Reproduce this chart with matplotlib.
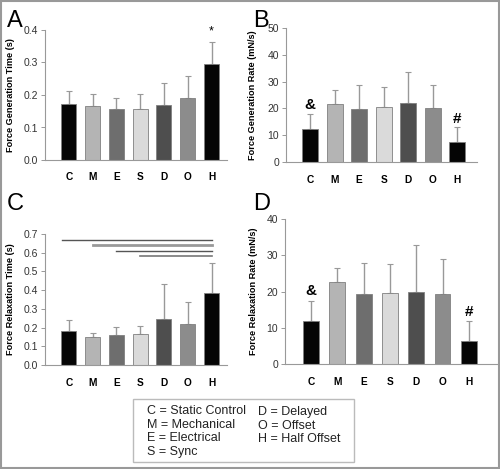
import matplotlib
matplotlib.use("Agg")
import matplotlib.pyplot as plt
from matplotlib.patches import Rectangle

categories = ["C", "M", "E", "S", "D", "O", "H"]
bar_colors = ["#050505", "#b4b4b4", "#6e6e6e", "#dadada", "#4e4e4e", "#8c8c8c", "#050505"]

gen_time = [0.172, 0.166, 0.157, 0.157, 0.170, 0.190, 0.296]
gen_time_err = [0.040, 0.037, 0.033, 0.046, 0.066, 0.068, 0.066]

gen_rate = [12.5, 21.5, 19.8, 20.5, 22.2, 20.0, 7.5]
gen_rate_err = [5.3, 5.2, 8.9, 7.3, 11.3, 8.7, 5.5]

rel_time = [0.183, 0.152, 0.158, 0.167, 0.245, 0.218, 0.385]
rel_time_err = [0.055, 0.018, 0.047, 0.040, 0.187, 0.117, 0.162]

rel_rate = [12.0, 22.5, 19.4, 19.5, 20.0, 19.2, 6.3]
rel_rate_err = [5.3, 3.9, 8.4, 8.1, 12.8, 9.8, 5.7]

sig_lines_start = [-0.3, 1, 2, 3]
sig_lines_y = [0.67, 0.64, 0.61, 0.58]
sig_lines_color = ["#555555", "#999999", "#555555", "#777777"]
sig_lines_width = [1.0, 2.0, 1.0, 1.2]

legend_left = ["C = Static Control", "M = Mechanical", "E = Electrical", "S = Sync"]
legend_right = ["D = Delayed", "O = Offset", "H = Half Offset"]

W, H = 500, 469
fig = plt.figure(figsize=(5, 4.69), dpi=100)
plt.rcParams['font.family'] = ['Liberation Sans', 'DejaVu Sans']

def fx(px):
    return px / W

def fy(py):
    return 1 - py / H

def make_ax(left, right, top, bottom):
    return fig.add_axes([fx(left), fy(bottom), fx(right) - fx(left), (bottom - top) / H])

def style(ax, vals, errs, ylim, yticks, ylabel, xlim, width, fmt, ylabel_x):
    x = list(range(len(categories)))
    ax.bar(x, vals, width=width, color=bar_colors, edgecolor="#808080", linewidth=0.6, zorder=2)
    ax.errorbar(x, vals, yerr=[[0] * len(errs), errs], fmt="none", ecolor="#999999",
                elinewidth=1.0, capsize=2.5, capthick=0.8, zorder=1)
    ax.set_xlim(*xlim)
    ax.set_ylim(*ylim)
    ax.set_yticks(yticks)
    ax.set_yticklabels([fmt.format(t) for t in yticks], fontsize=7.5, color="#333333")
    ax.set_xticks(x)
    ax.set_xticklabels(categories, fontsize=7.3, fontweight="bold")
    ax.tick_params(axis="x", length=0, pad=9)
    ax.tick_params(axis="y", length=3, width=0.6, color="#888888", pad=2)
    for s in ["top", "right"]:
        ax.spines[s].set_visible(False)
    for s in ["left", "bottom"]:
        ax.spines[s].set_color("#999999")
        ax.spines[s].set_linewidth(0.8)
    ax.set_ylabel(ylabel, fontsize=6.6, fontweight="bold")
    pos = ax.get_position()
    ax.yaxis.set_label_coords((fx(ylabel_x) - pos.x0) / pos.width, 0.5)

# Panel A
axA = make_ax(45, 227, 30, 160)
style(axA, gen_time, gen_time_err, (0, 0.4), [0.0, 0.1, 0.2, 0.3, 0.4],
      "Force Generation Time (s)", (-1.0, 6.65), 0.63, "{:.1f}", 15)
axA.text(6, gen_time[6] + gen_time_err[6] + 0.015, "*", ha="center", va="bottom", fontsize=9)

# Panel B
axB = make_ax(286, 477, 28, 162)
style(axB, gen_rate, gen_rate_err, (0, 50), [0, 10, 20, 30, 40, 50],
      "Force Generation Rate (mN/s)", (-0.98, 6.8), 0.65, "{:.0f}", 257)
axB.text(0, gen_rate[0] + gen_rate_err[0] + 1.0, "&", ha="center", va="bottom", fontsize=11, fontweight="bold")
axB.text(6, gen_rate[6] + gen_rate_err[6] + 0.5, "#", ha="center", va="bottom", fontsize=11, fontweight="bold")

# Panel C
axC = make_ax(45, 227, 234, 365)
style(axC, rel_time, rel_time_err, (0, 0.7), [0.0, 0.1, 0.2, 0.3, 0.4, 0.5, 0.6, 0.7],
      "Force Relaxation Time (s)", (-1.0, 6.65), 0.63, "{:.1f}", 15)
for xs, yv, c, lw in zip(sig_lines_start, sig_lines_y, sig_lines_color, sig_lines_width):
    axC.plot([xs, 6], [yv, yv], color=c, linewidth=lw, zorder=3)

# Panel D
axD = make_ax(285, 497, 219, 364)
style(axD, rel_rate, rel_rate_err, (0, 40), [0, 10, 20, 30, 40],
      "Force Relaxation Rate (mN/s)", (-0.99, 7.07), 0.6, "{:.0f}", 258)
axD.text(0, rel_rate[0] + rel_rate_err[0] + 1.0, "&", ha="center", va="bottom", fontsize=11, fontweight="bold")
axD.text(6, rel_rate[6] + rel_rate_err[6] + 0.5, "#", ha="center", va="bottom", fontsize=11, fontweight="bold")

# Panel letters
for lbl, px, py in [("A", 7, 27), ("B", 253, 27), ("C", 7, 210), ("D", 253, 210)]:
    fig.text(fx(px), fy(py), lbl, fontsize=17, ha="left", va="baseline")

# Legend box
fig.patches.append(Rectangle((fx(133), fy(462)), fx(354) - fx(133), (462 - 399) / H,
                             transform=fig.transFigure, facecolor="white",
                             edgecolor="#bbbbbb", linewidth=1.0))
for i, t in enumerate(legend_left):
    fig.text(fx(147), fy(411 + i * 13.5), t, fontsize=9, va="center", ha="left", color="#222222")
for i, t in enumerate(legend_right):
    fig.text(fx(258), fy(412 + i * 13.5), t, fontsize=9, va="center", ha="left", color="#222222")

# Outer border
fig.patches.append(Rectangle((0.002, 0.002), 0.996, 0.996, transform=fig.transFigure,
                             facecolor="none", edgecolor="#999999", linewidth=1.5))

fig.savefig("out.png", dpi=100)
